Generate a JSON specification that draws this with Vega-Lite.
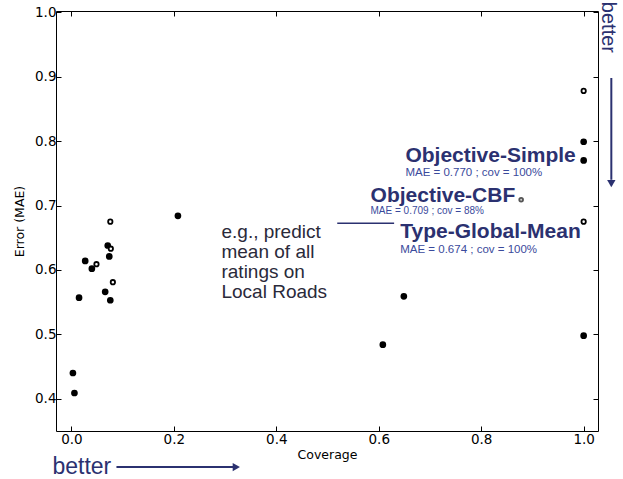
{
  "$schema": "https://vega.github.io/schema/vega-lite/v6.json",
  "width": 542,
  "height": 420,
  "autosize": {"type": "none"},
  "padding": {"left": 56, "top": 11, "right": 25, "bottom": 48},
  "background": "white",
  "config": {
    "view": {"stroke": "black", "strokeWidth": 1},
    "axis": {
      "grid": false,
      "domain": false,
      "labelFont": "DejaVu Sans",
      "labelFontSize": 13.5,
      "labelColor": "black",
      "titleFont": "DejaVu Sans",
      "titleFontSize": 12.5,
      "titleFontWeight": "normal",
      "titleColor": "black",
      "tickColor": "black",
      "tickSize": -5,
      "tickWidth": 1
    }
  },
  "resolve": {"axis": {"x": "independent", "y": "independent"}},
  "layer": [
    {
      "data": {"values": [
        {"coverage": 0.076, "mae": 0.675, "kind": "open"},
        {"coverage": 0.208, "mae": 0.684, "kind": "filled"},
        {"coverage": 0.071, "mae": 0.638, "kind": "filled"},
        {"coverage": 0.077, "mae": 0.633, "kind": "open"},
        {"coverage": 0.027, "mae": 0.614, "kind": "filled"},
        {"coverage": 0.049, "mae": 0.609, "kind": "open"},
        {"coverage": 0.040, "mae": 0.602, "kind": "filled"},
        {"coverage": 0.074, "mae": 0.621, "kind": "filled"},
        {"coverage": 0.081, "mae": 0.581, "kind": "open"},
        {"coverage": 0.066, "mae": 0.566, "kind": "filled"},
        {"coverage": 0.015, "mae": 0.557, "kind": "filled"},
        {"coverage": 0.076, "mae": 0.553, "kind": "filled"},
        {"coverage": 0.003, "mae": 0.440, "kind": "filled"},
        {"coverage": 0.006, "mae": 0.409, "kind": "filled"},
        {"coverage": 0.608, "mae": 0.484, "kind": "filled"},
        {"coverage": 0.649, "mae": 0.559, "kind": "filled"},
        {"coverage": 0.878, "mae": 0.709, "kind": "faint"},
        {"coverage": 1.0, "mae": 0.878, "kind": "open"},
        {"coverage": 1.0, "mae": 0.799, "kind": "filled"},
        {"coverage": 1.0, "mae": 0.770, "kind": "filled"},
        {"coverage": 1.0, "mae": 0.675, "kind": "open"},
        {"coverage": 1.0, "mae": 0.498, "kind": "filled"}
      ]},
      "mark": {"type": "point", "shape": "circle", "filled": true, "opacity": 1, "strokeWidth": 1.8},
      "encoding": {
        "x": {"field": "coverage", "type": "quantitative",
          "scale": {"domain": [-0.03, 1.028], "nice": false, "zero": false},
          "axis": {"orient": "bottom", "values": [0, 0.2, 0.4, 0.6, 0.8, 1.0], "format": ".1f", "title": "Coverage", "labelPadding": 6, "titlePadding": 3}},
        "y": {"field": "mae", "type": "quantitative",
          "scale": {"domain": [0.35, 1.002], "nice": false, "zero": false},
          "axis": {"orient": "left", "values": [0.4, 0.5, 0.6, 0.7, 0.8, 0.9, 1.0], "format": ".1f", "title": "Error (MAE)", "labelPadding": 5, "titlePadding": 8}},
        "fill": {"field": "kind", "type": "nominal", "scale": {"domain": ["filled", "open", "faint"], "range": ["black", "white", "#d0d0d0"]}, "legend": null},
        "stroke": {"field": "kind", "type": "nominal", "scale": {"domain": ["filled", "open", "faint"], "range": ["black", "black", "#555555"]}, "legend": null},
        "size": {"field": "kind", "type": "nominal", "scale": {"domain": ["filled", "open", "faint"], "range": [24, 14, 8]}, "legend": null}
      }
    },
    {
      "data": {"values": [
        {"label": "Objective-Simple", "x": 0.652, "y": 0.768},
        {"label": "Objective-CBF", "x": 0.584, "y": 0.706},
        {"label": "Type-Global-Mean", "x": 0.642, "y": 0.649}
      ]},
      "mark": {"type": "text", "align": "left", "baseline": "alphabetic", "font": "Liberation Sans", "fontWeight": "bold", "fontSize": 21, "color": "#2b3170"},
      "encoding": {
        "x": {"field": "x", "type": "quantitative", "scale": {"domain": [-0.03, 1.028], "nice": false, "zero": false},
          "axis": {"orient": "top", "values": [0, 0.2, 0.4, 0.6, 0.8, 1.0], "labels": false, "title": null}},
        "y": {"field": "y", "type": "quantitative", "scale": {"domain": [0.35, 1.002], "nice": false, "zero": false},
          "axis": {"orient": "right", "values": [0.4, 0.5, 0.6, 0.7, 0.8, 0.9, 1.0], "labels": false, "title": null}},
        "text": {"field": "label"}
      }
    },
    {
      "data": {"values": [
        {"label": "MAE = 0.770 ; cov = 100%", "x": 0.652, "y": 0.746},
        {"label": "MAE = 0.674 ; cov = 100%", "x": 0.642, "y": 0.627}
      ]},
      "mark": {"type": "text", "align": "left", "baseline": "alphabetic", "font": "Liberation Sans", "fontSize": 11.5, "color": "#3a4a9c"},
      "encoding": {
        "x": {"field": "x", "type": "quantitative", "scale": {"domain": [-0.03, 1.028], "nice": false, "zero": false}, "axis": null},
        "y": {"field": "y", "type": "quantitative", "scale": {"domain": [0.35, 1.002], "nice": false, "zero": false}, "axis": null},
        "text": {"field": "label"}
      }
    },
    {
      "data": {"values": [
        {"label": "MAE = 0.709 ; cov = 88%", "x": 0.584, "y": 0.6865}
      ]},
      "mark": {"type": "text", "align": "left", "baseline": "alphabetic", "font": "Liberation Sans", "fontSize": 10, "color": "#3a4a9c"},
      "encoding": {
        "x": {"field": "x", "type": "quantitative", "scale": {"domain": [-0.03, 1.028], "nice": false, "zero": false}, "axis": null},
        "y": {"field": "y", "type": "quantitative", "scale": {"domain": [0.35, 1.002], "nice": false, "zero": false}, "axis": null},
        "text": {"field": "label"}
      }
    },
    {
      "data": {"values": [
        {"label": "e.g., predict\nmean of all\nratings on\nLocal Roads", "x": 0.293, "y": 0.649}
      ]},
      "mark": {"type": "text", "align": "left", "baseline": "alphabetic", "font": "Liberation Sans", "fontSize": 19, "lineHeight": 20, "lineBreak": "\n", "color": "#2a2a3a"},
      "encoding": {
        "x": {"field": "x", "type": "quantitative", "scale": {"domain": [-0.03, 1.028], "nice": false, "zero": false}, "axis": null},
        "y": {"field": "y", "type": "quantitative", "scale": {"domain": [0.35, 1.002], "nice": false, "zero": false}, "axis": null},
        "text": {"field": "label"}
      }
    },
    {
      "data": {"values": [
        {"x": 0.519, "x2": 0.630, "y": 0.6725}
      ]},
      "mark": {"type": "rule", "color": "#2b3170", "strokeWidth": 1.5},
      "encoding": {
        "x": {"field": "x", "type": "quantitative", "scale": {"domain": [-0.03, 1.028], "nice": false, "zero": false}, "axis": null},
        "x2": {"field": "x2"},
        "y": {"field": "y", "type": "quantitative", "scale": {"domain": [0.35, 1.002], "nice": false, "zero": false}, "axis": null}
      }
    },
    {
      "data": {"values": [
        {"label": "better", "x": -0.037, "y": 0.283}
      ]},
      "mark": {"type": "text", "align": "left", "baseline": "alphabetic", "font": "Liberation Sans", "fontSize": 23, "color": "#2b3170"},
      "encoding": {
        "x": {"field": "x", "type": "quantitative", "scale": {"domain": [-0.03, 1.028], "nice": false, "zero": false}, "axis": null},
        "y": {"field": "y", "type": "quantitative", "scale": {"domain": [0.35, 1.002], "nice": false, "zero": false}, "axis": null},
        "text": {"field": "label"}
      }
    },
    {
      "data": {"values": [
        {"label": "better", "x": 1.0365, "y": 1.0162}
      ]},
      "mark": {"type": "text", "align": "left", "baseline": "alphabetic", "angle": 90, "font": "Liberation Sans", "fontSize": 20, "color": "#2b3170"},
      "encoding": {
        "x": {"field": "x", "type": "quantitative", "scale": {"domain": [-0.03, 1.028], "nice": false, "zero": false}, "axis": null},
        "y": {"field": "y", "type": "quantitative", "scale": {"domain": [0.35, 1.002], "nice": false, "zero": false}, "axis": null},
        "text": {"field": "label"}
      }
    },
    {
      "data": {"values": [
        {"x": 0.088, "x2": 0.316, "y": 0.294}
      ]},
      "mark": {"type": "rule", "color": "#2b3170", "strokeWidth": 2},
      "encoding": {
        "x": {"field": "x", "type": "quantitative", "scale": {"domain": [-0.03, 1.028], "nice": false, "zero": false}, "axis": null},
        "x2": {"field": "x2"},
        "y": {"field": "y", "type": "quantitative", "scale": {"domain": [0.35, 1.002], "nice": false, "zero": false}, "axis": null}
      }
    },
    {
      "data": {"values": [
        {"x": 1.054, "y": 0.898, "y2": 0.740}
      ]},
      "mark": {"type": "rule", "color": "#2b3170", "strokeWidth": 2},
      "encoding": {
        "x": {"field": "x", "type": "quantitative", "scale": {"domain": [-0.03, 1.028], "nice": false, "zero": false}, "axis": null},
        "y": {"field": "y", "type": "quantitative", "scale": {"domain": [0.35, 1.002], "nice": false, "zero": false}, "axis": null},
        "y2": {"field": "y2"}
      }
    },
    {
      "data": {"values": [
        {"x": 0.322, "y": 0.294, "dir": "right"},
        {"x": 1.054, "y": 0.734, "dir": "down"}
      ]},
      "mark": {"type": "point", "filled": true, "opacity": 1, "color": "#2b3170", "size": 70},
      "encoding": {
        "x": {"field": "x", "type": "quantitative", "scale": {"domain": [-0.03, 1.028], "nice": false, "zero": false}, "axis": null},
        "y": {"field": "y", "type": "quantitative", "scale": {"domain": [0.35, 1.002], "nice": false, "zero": false}, "axis": null},
        "shape": {"field": "dir", "type": "nominal", "scale": {"domain": ["right", "down"], "range": ["triangle-right", "triangle-down"]}, "legend": null}
      }
    }
  ]
}
